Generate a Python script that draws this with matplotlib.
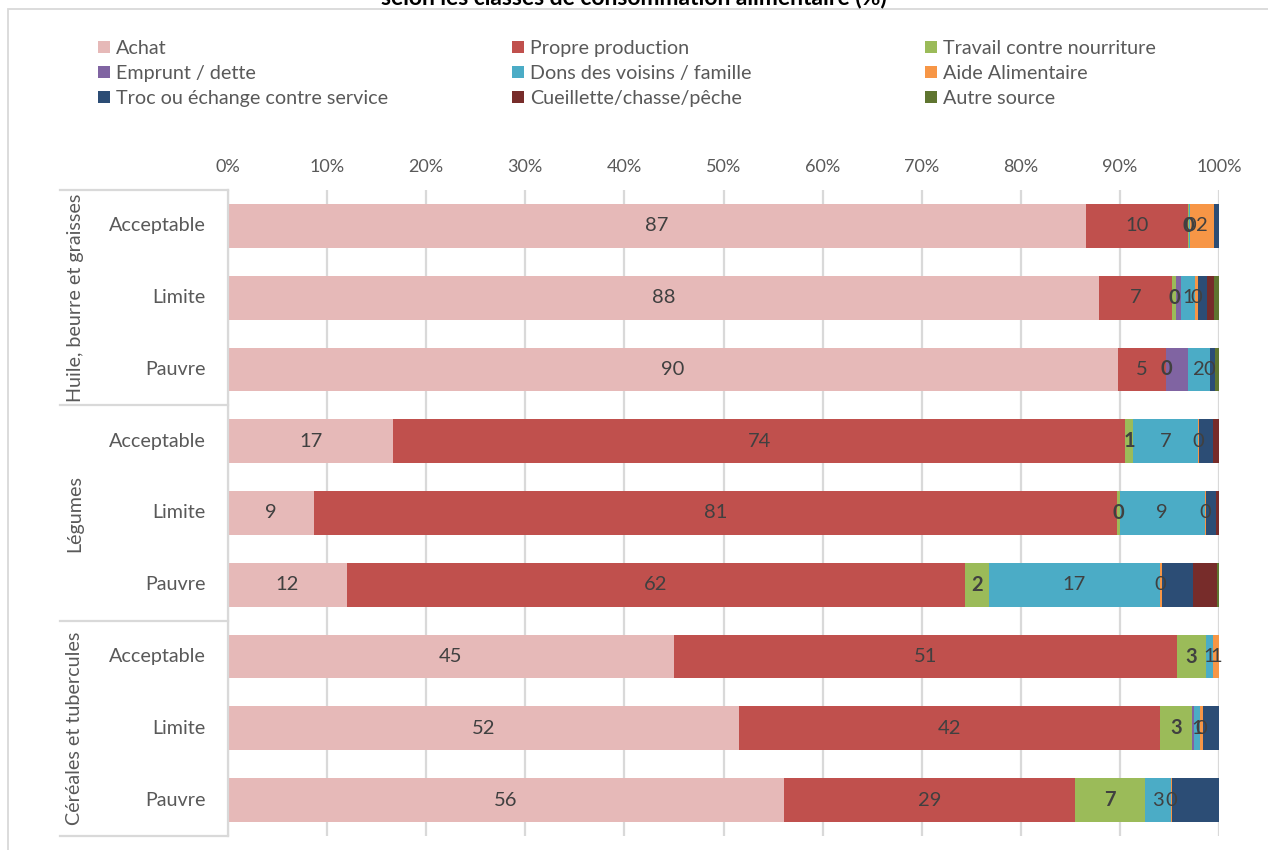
import matplotlib
matplotlib.use("Agg")
import matplotlib.pyplot as plt
from matplotlib.patches import Rectangle, Patch
from matplotlib.lines import Line2D
import matplotlib.transforms as mtransforms

plt.rcParams['font.family'] = ['Lato', 'DejaVu Sans']

# ---------------- data ----------------
groups = ["Huile, beurre et graisses", "Légumes", "Céréales et tubercules"]
classes = ["Acceptable", "Limite", "Pauvre"]
series_names = ["Achat", "Propre production", "Travail contre nourriture",
                "Emprunt / dette", "Dons des voisins / famille", "Aide Alimentaire",
                "Troc ou échange contre service", "Cueillette/chasse/pêche", "Autre source"]
achat      = [86.6, 87.9, 89.8, 16.65, 8.7, 12.0, 45.0, 51.6, 56.1]
propre     = [10.3, 7.4, 4.85, 73.9, 81.0, 62.35, 50.8, 42.45, 29.4]
travail    = [0.1, 0.35, 0.05, 0.75, 0.27, 2.45, 2.85, 3.2, 7.0]
emprunt    = [0.0, 0.55, 2.15, 0.0, 0.0, 0.0, 0.0, 0.25, 0.0]
dons       = [0.1, 1.4, 2.2, 6.6, 8.6, 17.2, 0.7, 0.55, 2.65]
aide       = [2.4, 0.3, 0.0, 0.1, 0.1, 0.2, 0.65, 0.3, 0.1]
troc       = [0.5, 0.9, 0.5, 1.4, 1.0, 3.2, 0.0, 1.65, 4.75]
cueillette = [0.0, 0.65, 0.0, 0.6, 0.33, 2.4, 0.0, 0.0, 0.0]
autre      = [0.0, 0.55, 0.45, 0.0, 0.0, 0.2, 0.0, 0.0, 0.0]
xtick_labels = ["0%", "10%", "20%", "30%", "40%", "50%", "60%", "70%", "80%", "90%", "100%"]
title_text = "selon les classes de consommation alimentaire (%)"

series = [achat, propre, travail, emprunt, dons, aide, troc, cueillette, autre]
colors = ["#E6B9B8", "#C0504D", "#9BBB59", "#8064A2", "#4BACC6",
          "#F79646", "#2C4D75", "#772C2A", "#5F7530"]
labeled = {0: "normal", 1: "normal", 2: "bold", 4: "normal", 5: "normal"}

W, H = 1268, 850
fig = plt.figure(figsize=(W / 100, H / 100), dpi=100)

# outer chart border (partly visible)
fig.patches.append(Rectangle((8 / W, -0.1), 1.2, 1 - 9 / H + 0.1, transform=fig.transFigure,
                             fill=False, edgecolor="#D9D9D9", linewidth=1.3))
fig.text(0.5, 1 + 2 / H, title_text, ha="center", va="center", fontsize=16.5,
         fontweight="bold", color="#000000")

x0, x1, ytop, ybot = 228, 1219, 190, 836
ax = fig.add_axes([x0 / W, 1 - ybot / H, (x1 - x0) / W, (ybot - ytop) / H])

n = len(achat)
ypos = list(range(n))
left = [0.0] * n
txt_color = "#404040"
for si, (vals, col) in enumerate(zip(series, colors)):
    fr = [v / 100 for v in vals]
    ax.barh(ypos, fr, left=left, height=0.61, color=col, linewidth=0, zorder=2)
    if si in labeled:
        for i in range(n):
            cx = left[i] + fr[i] / 2
            ax.text(cx, ypos[i], "%d" % int(vals[i] + 0.5), ha="center", va="center",
                    fontsize=14.5, color=txt_color, fontweight=labeled[si], zorder=3)
    left = [l + f for l, f in zip(left, fr)]

ax.set_xlim(0, 1)
ax.set_ylim(n - 0.5, -0.5)
ax.xaxis.tick_top()
ax.set_xticks([i / 10 for i in range(11)])
ax.set_xticklabels(xtick_labels, fontsize=13, color="#595959")
ax.tick_params(axis="x", length=0, pad=10.5)
ax.set_yticks([])
ax.grid(axis="x", color="#D9D9D9", linewidth=1.6, zorder=0)
for s in ["top", "right", "bottom"]:
    ax.spines[s].set_visible(False)
ax.spines["left"].set_color("#D9D9D9")
ax.spines["left"].set_linewidth(1.6)

# multi-level category axis
trans = mtransforms.blended_transform_factory(ax.transAxes, ax.transData)
xl = (60 - x0) / (x1 - x0)
for b in [-0.5, 2.5, 5.5, 8.5]:
    ax.add_line(Line2D([xl, 0], [b, b], transform=trans, color="#D9D9D9",
                       linewidth=1.6, clip_on=False))
xcls = (206 - x0) / (x1 - x0)
xgrp = (75 - x0) / (x1 - x0)
for gi, g in enumerate(groups):
    for ci, c in enumerate(classes):
        ax.text(xcls, gi * 3 + ci, c, transform=trans, ha="right", va="center",
                fontsize=14.2, color="#595959")
    ax.text(xgrp, gi * 3 + 1, g, transform=trans, ha="center", va="center",
            rotation=90, fontsize=14.2, color="#595959")

# legend: three columns
handles = [Patch(facecolor=c, edgecolor="none", label=s) for s, c in zip(series_names, colors)]
colx = [98, 512, 925]
for k in range(3):
    hs = handles[k::3]
    leg = fig.legend(handles=hs, loc="upper left",
                     bbox_to_anchor=(colx[k] / W, 1 - 40 / H), frameon=False,
                     fontsize=14.2, handlelength=0.6, handleheight=0.6,
                     handletextpad=0.3, labelspacing=0.41, borderpad=0, borderaxespad=0)
    for t in leg.get_texts():
        t.set_color("#595959")

fig.savefig("out.png", dpi=100)
